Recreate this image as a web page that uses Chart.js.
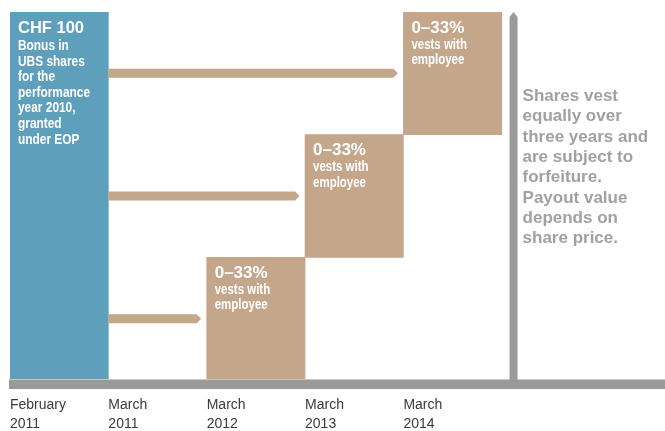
<!DOCTYPE html>
<html>
<head>
<meta charset="utf-8">
<script src="https://cdn.jsdelivr.net/npm/chart.js@4.4.1/dist/chart.umd.min.js"></script>
<style>
  html, body { margin: 0; padding: 0; background: #fff; overflow: hidden; }
  #wrap { width: 665px; height: 431px; }
</style>
</head>
<body>
<div id="wrap"><canvas id="chart" width="665" height="431"></canvas></div>
<script>
// x axis: one slot per date, bars fill a whole slot
const tickLabels = [
  ["February", "2011"],
  ["March", "2011"],
  ["March", "2012"],
  ["March", "2013"],
  ["March", "2014"]
];

// grant bar (blue): slot, from, to (in thirds of the award)
const grantSlots = [0];
const grantFrom = [0];
const grantTo = [3];

// vesting tranches (brown)
const vestSlots = [2, 3, 4];
const vestFrom = [0, 1, 2];
const vestTo = [1, 2, 3];

// arrows from grant to each tranche
const arrowFromSlot = 1;
const arrowToSlots = [2, 3, 4];
const arrowLevels = [0.5, 1.5, 2.5];

// gray vertical arrow with note
const noteSlot = 5.12;

const grantTitle = "CHF 100";
const grantLines = ["Bonus in", "UBS shares", "for the", "performance", "year 2010,", "granted", "under EOP"];
const vestTitle = "0–33%";
const vestLines = ["vests with", "employee"];
const noteLines = ["Shares vest", "equally over", "three years and", "are subject to", "forfeiture.", "Payout value", "depends on", "share price."];

const BLUE = "#5e9fbc";
const BROWN = "#c4a78b";
const GRAY = "#9c9a98";
const NOTE_GRAY = "#a3a19f";
const NARROW = 0.82; // no narrow face installed, squeeze bold sans instead

const toPoints = (slots, from, to) => slots.map((s, i) => ({ x: s + 0.5, y: [from[i], to[i]] }));

const narrowText = (ctx, text, x, y) => {
  ctx.save();
  ctx.translate(x, y);
  ctx.scale(NARROW, 1);
  ctx.fillText(text, 0, 0);
  ctx.restore();
};

const overlay = {
  id: "overlay",
  afterDatasetsDraw(chart) {
    const { ctx, chartArea, scales: { x, y } } = chart;
    const y0 = y.getPixelForValue(0);
    ctx.save();

    // axis band
    ctx.fillStyle = "#c9c7c5";
    ctx.fillRect(chartArea.left - 1, y0 - 1, chart.width, 1);
    ctx.fillStyle = GRAY;
    ctx.fillRect(chartArea.left - 1, y0, chart.width, 9);

    // vertical gray arrow
    const vx = x.getPixelForValue(noteSlot);
    const vTop = y.getPixelForValue(3);
    ctx.beginPath();
    ctx.moveTo(vx - 4, y0);
    ctx.lineTo(vx - 4, vTop + 5);
    ctx.lineTo(vx, vTop);
    ctx.lineTo(vx + 4, vTop + 5);
    ctx.lineTo(vx + 4, y0);
    ctx.closePath();
    ctx.fill();

    // horizontal arrows
    ctx.fillStyle = BROWN;
    arrowToSlots.forEach((slot, i) => {
      const xs = x.getPixelForValue(arrowFromSlot);
      const tip = x.getPixelForValue(slot) - 5.5;
      const cy = y.getPixelForValue(arrowLevels[i]);
      ctx.beginPath();
      ctx.moveTo(xs, cy - 4.5);
      ctx.lineTo(tip - 4.5, cy - 4.5);
      ctx.lineTo(tip, cy);
      ctx.lineTo(tip - 4.5, cy + 4.5);
      ctx.lineTo(xs, cy + 4.5);
      ctx.closePath();
      ctx.fill();
    });

    // texts inside bars
    ctx.fillStyle = "#ffffff";
    ctx.textBaseline = "alphabetic";
    ctx.textAlign = "left";
    chart.getDatasetMeta(0).data.forEach((bar) => {
      const left = bar.x - bar.width / 2 + 8;
      const top = Math.min(bar.y, bar.base);
      ctx.font = "bold 16.5px 'Liberation Sans', Arial, sans-serif";
      ctx.fillText(grantTitle, left, top + 21);
      ctx.font = "bold 14.5px 'Liberation Sans', Arial, sans-serif";
      grantLines.forEach((line, i) => narrowText(ctx, line, left, top + 38 + i * 15.6));
    });
    chart.getDatasetMeta(1).data.forEach((bar) => {
      const left = bar.x - bar.width / 2 + 8;
      const top = Math.min(bar.y, bar.base);
      ctx.font = "bold 17px 'Liberation Sans', Arial, sans-serif";
      ctx.fillText(vestTitle, left, top + 20.5);
      ctx.font = "bold 14px 'Liberation Sans', Arial, sans-serif";
      vestLines.forEach((line, i) => narrowText(ctx, line, left, top + 36.5 + i * 15.5));
    });

    // note text
    ctx.fillStyle = NOTE_GRAY;
    ctx.font = "bold 17px 'Liberation Sans', Arial, sans-serif";
    noteLines.forEach((line, i) => ctx.fillText(line, vx + 9, 101 + i * 20.3));

    ctx.restore();
  }
};

new Chart(document.getElementById("chart"), {
  type: "bar",
  data: {
    datasets: [
      {
        label: "Grant",
        data: toPoints(grantSlots, grantFrom, grantTo),
        backgroundColor: BLUE,
        borderWidth: 0,
        barPercentage: 1,
        categoryPercentage: 1,
        grouped: false
      },
      {
        label: "Vesting",
        data: toPoints(vestSlots, vestFrom, vestTo),
        backgroundColor: BROWN,
        borderWidth: 0,
        barPercentage: 1,
        categoryPercentage: 1,
        grouped: false
      }
    ]
  },
  options: {
    responsive: false,
    devicePixelRatio: 1,
    animation: false,
    layout: { padding: { left: 10, top: 12, right: 0, bottom: 0 } },
    plugins: {
      legend: { display: false },
      tooltip: { enabled: false }
    },
    scales: {
      x: {
        type: "linear",
        min: 0,
        max: 6.66,
        offset: false,
        grid: { display: false, drawTicks: true, tickLength: 16 },
        border: { display: false },
        ticks: {
          stepSize: 1,
          includeBounds: false,
          autoSkip: false,
          maxRotation: 0,
          align: "start",
          padding: 0,
          color: "#3a3a3a",
          font: { family: "'Liberation Sans', Arial, sans-serif", size: 14, lineHeight: 1.36 },
          callback: (value) => tickLabels[value] || ""
        },
        afterFit: (scale) => { scale.height = 51; }
      },
      y: {
        min: 0,
        max: 3,
        display: false
      }
    }
  },
  plugins: [overlay]
});
</script>
</body>
</html>
